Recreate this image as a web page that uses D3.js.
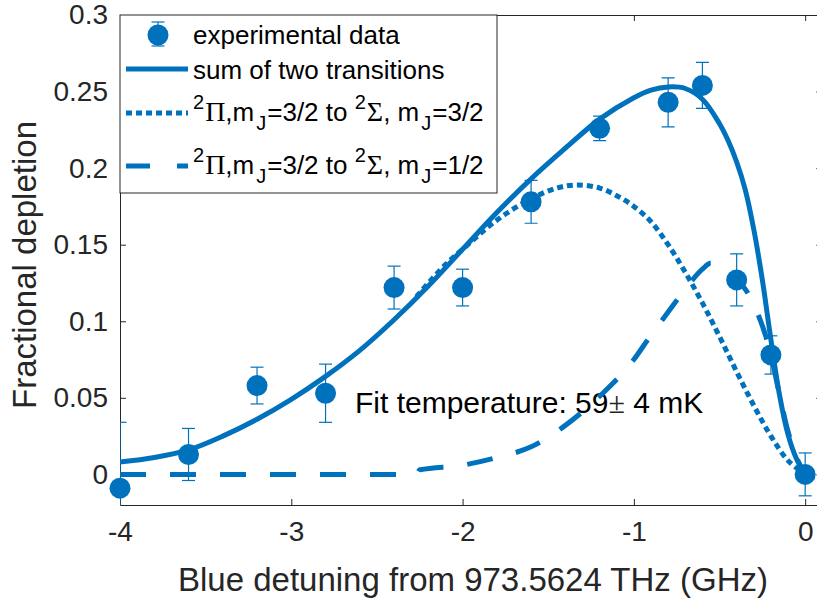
<!DOCTYPE html>
<html>
<head>
<meta charset="utf-8">
<script src="https://cdn.jsdelivr.net/npm/d3@7"></script>
<style>
  body { margin: 0; background: #fff; }
  svg { display: block; font-family: "Liberation Sans", Arial, Helvetica, sans-serif; }
</style>
</head>
<body>
<div id="chart-area"></div>
<script>
// experimental points
const expX = [-4, -3.6, -3.2, -2.8, -2.4, -2.0, -1.6, -1.2, -0.8, -0.6, -0.4, -0.2, 0];
const expY = [-0.009, 0.013, 0.058, 0.053, 0.122, 0.122, 0.178, 0.226, 0.243, 0.254, 0.127, 0.078, 0.0];
const expErr = [0.043, 0.017, 0.012, 0.019, 0.014, 0.012, 0.014, 0.008, 0.016, 0.015, 0.017, 0.0125, 0.014];

// sum of two transitions (solid)
const sumX = [-4, -3.8, -3.6, -3.4, -3.2, -3.0, -2.8, -2.6, -2.4, -2.2, -2.0, -1.8, -1.6, -1.4, -1.2, -1.0, -0.9, -0.8, -0.7, -0.6, -0.5, -0.45, -0.4, -0.35, -0.3, -0.25, -0.2, -0.15, -0.1, -0.05, 0];
const sumY = [0.008, 0.011, 0.016, 0.025, 0.036, 0.049, 0.064, 0.081, 0.101, 0.123, 0.147, 0.171, 0.193, 0.213, 0.232, 0.246, 0.251, 0.253, 0.252, 0.245, 0.229, 0.218, 0.204, 0.186, 0.160, 0.127, 0.088, 0.052, 0.026, 0.010, 0];

// 2Pi mJ=3/2 -> 2Sigma mJ=3/2 (dotted)
const dotX = [-2.27, -2.1, -2.0, -1.8, -1.6, -1.45, -1.33, -1.2, -1.1, -1.0, -0.9, -0.8, -0.7, -0.6, -0.5, -0.4, -0.3, -0.2, -0.1, 0];
const dotY = [0.116, 0.137, 0.147, 0.166, 0.180, 0.187, 0.189, 0.187, 0.182, 0.175, 0.165, 0.150, 0.132, 0.112, 0.090, 0.067, 0.045, 0.025, 0.009, 0];

// 2Pi mJ=3/2 -> 2Sigma mJ=1/2 (dashed)
const dashX = [-4, -2.27, -2.25, -2.0, -1.8, -1.6, -1.4, -1.2, -1.0, -0.9, -0.8, -0.7, -0.6, -0.55, -0.5, -0.4, -0.3, -0.2, -0.15, -0.1, -0.05, 0];
const dashY = [0, 0, 0.003, 0.006, 0.011, 0.018, 0.032, 0.051, 0.075, 0.091, 0.106, 0.121, 0.134, 0.138, 0.137, 0.128, 0.111, 0.078, 0.052, 0.028, 0.011, 0];

const xTicks = [-4, -3, -2, -1, 0];
const yTicks = [0, 0.05, 0.1, 0.15, 0.2, 0.25, 0.3];

const blue = '#0072BD';
const axisColor = '#262626';

const W = 817, H = 600;
const L = 120, T = 15, B = 505, R = 822.3;

const svg = d3.select("#chart-area").append("svg")
  .attr("width", W)
  .attr("height", H)

const x = d3.scaleLinear().domain([-4, 0.1]).range([L, R]);
const y = d3.scaleLinear().domain([-0.02, 0.3]).range([B, T]);

svg.append("defs").append("clipPath").attr("id", "plot-clip")
  .append("rect").attr("x", L).attr("y", T).attr("width", R - L).attr("height", B - T);

// axes, ticks pointing inward
const fmtY = d => String(+d.toFixed(2));
const fmtX = d => String(d);

const gx = svg.append("g").attr("transform", `translate(0,${B})`)
  .call(d3.axisBottom(x).tickValues(xTicks).tickFormat(fmtX).tickSizeInner(-6).tickSizeOuter(0).tickPadding(16));
const gy = svg.append("g").attr("transform", `translate(${L},0)`)
  .call(d3.axisLeft(y).tickValues(yTicks).tickFormat(fmtY).tickSizeInner(-6).tickSizeOuter(0).tickPadding(12));
const gt = svg.append("g").attr("transform", `translate(0,${T})`)
  .call(d3.axisTop(x).tickValues(xTicks).tickFormat("").tickSizeInner(-6).tickSizeOuter(0));
const gr = svg.append("g").attr("transform", `translate(${R},0)`)
  .call(d3.axisRight(y).tickValues(yTicks).tickFormat("").tickSizeInner(-6).tickSizeOuter(0));

[gx, gy, gt, gr].forEach(g => {
  g.selectAll("path.domain").attr("stroke", axisColor).attr("stroke-width", 1);
  g.selectAll(".tick line").attr("stroke", axisColor).attr("stroke-width", 1);
  g.selectAll(".tick text").attr("fill", axisColor).style("font-size", "28px").style("font-family", "Liberation Sans, Arial, sans-serif");
});

// axis labels
svg.append("text")
  .attr("x", 473).attr("y", 591)
  .attr("text-anchor", "middle")
  .attr("fill", axisColor)
  .style("font-size", "33px")
  .text("Blue detuning from 973.5624 THz (GHz)");

svg.append("text")
  .attr("transform", `translate(36,${(T + B) / 2 + 5}) rotate(-90)`)
  .attr("text-anchor", "middle")
  .attr("fill", axisColor)
  .style("font-size", "33px")
  .text("Fractional depletion");

// fit temperature annotation
const fitText = svg.append("text")
  .attr("x", 355).attr("y", 413)
  .attr("fill", "#000")
  .style("font-size", "30px");
fitText.append("tspan").text("Fit temperature: 59");
fitText.append("tspan").style("font-family", "Liberation Serif, Times New Roman, serif").attr("fill", axisColor).text("\u00b1");
fitText.append("tspan").text(" 4 mK");

// fit curves
const plot = svg.append("g").attr("clip-path", "url(#plot-clip)");

const curves = [
  { xs: sumX, ys: sumY, dash: null, curve: d3.curveCatmullRom.alpha(0.5) },
  { xs: dotX, ys: dotY, dash: "6,4", curve: d3.curveCatmullRom.alpha(0.5) },
  { xs: dashX, ys: dashY, dash: "26,24", curve: d3.curveMonotoneX }
];

curves.forEach(c => {
  const line = d3.line()
    .x(d => x(d[0]))
    .y(d => y(d[1]))
    .curve(c.curve);
  plot.append("path")
    .datum(d3.zip(c.xs, c.ys))
    .attr("d", line)
    .attr("fill", "none")
    .attr("stroke", blue)
    .attr("stroke-width", 5)
    .attr("stroke-dasharray", c.dash);
});

// error bars
const pts = d3.zip(expX, expY, expErr);
const capW = 6.5;

const eb = plot.selectAll("g.eb").data(pts).enter().append("g").attr("class", "eb")
  .attr("stroke", blue).attr("stroke-width", 1.2);
eb.append("line")
  .attr("x1", d => x(d[0])).attr("x2", d => x(d[0]))
  .attr("y1", d => y(d[1] - d[2])).attr("y2", d => y(d[1] + d[2]));
eb.append("line")
  .attr("x1", d => x(d[0]) - capW).attr("x2", d => x(d[0]) + capW)
  .attr("y1", d => y(d[1] + d[2])).attr("y2", d => y(d[1] + d[2]));
eb.append("line")
  .attr("x1", d => x(d[0]) - capW).attr("x2", d => x(d[0]) + capW)
  .attr("y1", d => y(d[1] - d[2])).attr("y2", d => y(d[1] - d[2]));

// markers are not clipped
svg.selectAll("circle.pt").data(pts).enter().append("circle")
  .attr("class", "pt")
  .attr("cx", d => x(d[0]))
  .attr("cy", d => y(d[1]))
  .attr("r", 10.5)
  .attr("fill", blue);

// legend
const lg = svg.append("g");
lg.append("rect")
  .attr("x", L).attr("y", T).attr("width", 497 - L).attr("height", 193 - T)
  .attr("fill", "#fff").attr("stroke", axisColor).attr("stroke-width", 1);

const lx1 = 126, lx2 = 188, tx = 193;

// item 1: marker with error bar
lg.append("line").attr("x1", 158).attr("x2", 158).attr("y1", 22).attr("y2", 46).attr("stroke", blue).attr("stroke-width", 1.2);
lg.append("line").attr("x1", 158 - capW).attr("x2", 158 + capW).attr("y1", 22).attr("y2", 22).attr("stroke", blue).attr("stroke-width", 1.2);
lg.append("line").attr("x1", 158 - capW).attr("x2", 158 + capW).attr("y1", 46).attr("y2", 46).attr("stroke", blue).attr("stroke-width", 1.2);
lg.append("circle").attr("cx", 158).attr("cy", 35).attr("r", 10.5).attr("fill", blue);

const lineItems = [
  { cy: 69, dash: null },
  { cy: 113, dash: "6,4" },
  { cy: 166, dash: "24,27" }
];
lineItems.forEach(it => {
  lg.append("line")
    .attr("x1", lx1).attr("x2", lx2).attr("y1", it.cy).attr("y2", it.cy)
    .attr("stroke", blue).attr("stroke-width", 5)
    .attr("stroke-dasharray", it.dash);
});

function legendText(yBase, parts) {
  const t = lg.append("text").attr("x", tx).attr("y", yBase).attr("fill", "#000").style("font-size", "26px");
  let prev = 0;
  parts.forEach(p => {
    const off = p.off || 0;
    const s = t.append("tspan").attr("dy", off - prev).attr("dx", p.dx || 0).text(p.t);
    if (p.small) s.style("font-size", "20px");
    if (p.serif) s.style("font-family", "Liberation Serif, Times New Roman, serif").style("font-size", "28px");
    prev = off;
  });
}

legendText(44, [{ t: "experimental data" }]);
legendText(79, [{ t: "sum of two transitions" }]);

const termParts = last => [
  { t: "2", small: true, off: -12 },
  { t: "\u03a0", serif: true, dx: 1 },
  { t: ",m" },
  { t: "J", small: true, off: 9, dx: 2 },
  { t: "=3/2 to ", dx: 1 },
  { t: "2", small: true, off: -12 },
  { t: "\u03a3", serif: true, dx: 1 },
  { t: ", m" },
  { t: "J", small: true, off: 9, dx: 2 },
  { t: "=" + last, dx: 1 }
];
legendText(121, termParts("3/2"));
legendText(174, termParts("1/2"));
</script>
</body>
</html>
